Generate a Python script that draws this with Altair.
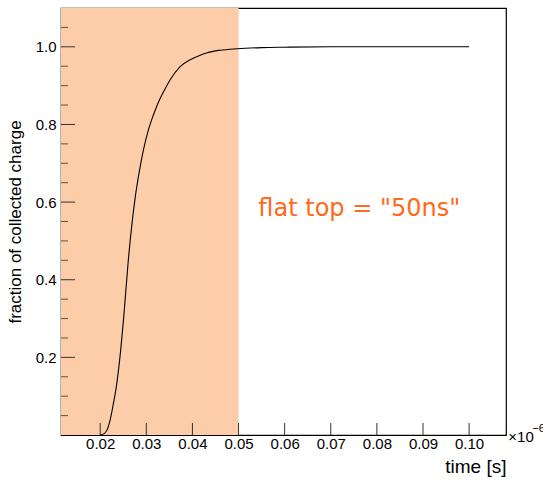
import altair as alt
import pandas as pd

# Collected-charge curve (time in microseconds on the axis, x10^-6 s)
t_vals = [0.02000, 0.02087, 0.02152, 0.02217, 0.02282, 0.02347, 0.02434, 0.02520, 0.02607,
          0.02694, 0.02759, 0.02867, 0.02939, 0.03047, 0.03156, 0.03286, 0.03409, 0.03518,
          0.03734, 0.03951, 0.04168, 0.04320, 0.04602, 0.04970, 0.05500, 0.06000, 0.07000,
          0.08000, 0.09000, 0.10000]
q_vals = [0.0000, 0.0036, 0.0139, 0.0397, 0.0783, 0.1221, 0.2071, 0.3178, 0.4466,
          0.5496, 0.6114, 0.6912, 0.7350, 0.7865, 0.8251, 0.8637, 0.8921, 0.9153,
          0.9488, 0.9668, 0.9784, 0.9848, 0.9912, 0.9951, 0.9980, 0.9990, 1.0000,
          1.0000, 1.0000, 1.0000]

x_domain = [0.0115, 0.108]
y_domain = [0.0, 1.1]

band_start = [0.0115]
band_end = [0.05]

x_major = [0.02, 0.03, 0.04, 0.05, 0.06, 0.07, 0.08, 0.09, 0.10]
y_major = [0.2, 0.4, 0.6, 0.8, 1.0]
y_minor = [0.05, 0.1, 0.15, 0.25, 0.3, 0.35, 0.45, 0.5, 0.55, 0.65, 0.7, 0.75, 0.85, 0.9, 0.95, 1.05]

note_text = ['flat top = "50ns"']
note_x = [0.0543]
note_y = [0.563]

curve = pd.DataFrame({"t": t_vals, "q": q_vals})
band = pd.DataFrame({"t0": band_start, "t1": band_end, "q0": [y_domain[0]], "q1": [y_domain[1]]})

xs = alt.Scale(domain=x_domain, nice=False, zero=False)
ys = alt.Scale(domain=y_domain, nice=False, zero=False)

x_axis = alt.Axis(values=x_major, format=".2f", tickSize=0, labelPadding=1, domain=False,
                  grid=False, labelFontSize=15, labelFont="Liberation Sans", labelColor="black",
                  title="time [s]", titleAnchor="end", titleFontSize=19, titleFont="Liberation Sans",
                  titleFontWeight="normal", titleColor="black", titlePadding=6)
y_axis = alt.Axis(values=y_major, format=".1f", tickSize=0, labelPadding=5, domain=False,
                  grid=False, labelFontSize=15, labelFont="Liberation Sans", labelColor="black",
                  title="fraction of collected charge", titleFontSize=17,
                  titleFont="Liberation Sans", titleFontWeight="normal", titleColor="black",
                  titlePadding=11)

shade = alt.Chart(band).mark_rect(color="#fdcca8").encode(
    x=alt.X("t0:Q", scale=xs, axis=x_axis),
    x2="t1:Q",
    y=alt.Y("q0:Q", scale=ys, axis=y_axis),
    y2="q1:Q",
)

# Inward-pointing ticks along the left and bottom frame edges
ymaj = alt.Chart(pd.DataFrame({"v": y_major})).mark_rule(color="#333333", strokeWidth=1).encode(
    y=alt.Y("v:Q", scale=ys), x=alt.value(0), x2=alt.value(14))
ymin = alt.Chart(pd.DataFrame({"v": y_minor})).mark_rule(color="#555555", strokeWidth=1).encode(
    y=alt.Y("v:Q", scale=ys), x=alt.value(0), x2=alt.value(7))
xmaj = alt.Chart(pd.DataFrame({"v": x_major})).mark_rule(color="#333333", strokeWidth=1).encode(
    x=alt.X("v:Q", scale=xs), y=alt.value(427), y2=alt.value(415))

line = alt.Chart(curve).mark_line(color="black", strokeWidth=1.1, interpolate="monotone").encode(
    x=alt.X("t:Q", scale=xs), y=alt.Y("q:Q", scale=ys))

note = alt.Chart(pd.DataFrame({"t": note_x, "q": note_y, "s": note_text})).mark_text(
    align="left", baseline="alphabetic", font="DejaVu Sans", fontSize=24, color="#ff6a1a"
).encode(x=alt.X("t:Q", scale=xs), y=alt.Y("q:Q", scale=ys), text="s:N")

mult = alt.Chart(pd.DataFrame({"t": [0.1085], "q": [-0.004], "s": ["×10"]})).mark_text(
    align="left", baseline="middle", font="Liberation Sans", fontSize=15, color="black", clip=False
).encode(x=alt.X("t:Q", scale=xs), y=alt.Y("q:Q", scale=ys), text="s:N")
expo = alt.Chart(pd.DataFrame({"t": [0.1137], "q": [0.016], "s": ["−6"]})).mark_text(
    align="left", baseline="middle", font="Liberation Sans", fontSize=11, color="black", clip=False
).encode(x=alt.X("t:Q", scale=xs), y=alt.Y("q:Q", scale=ys), text="s:N")

chart = alt.layer(shade, ymaj, ymin, xmaj, line, note, mult, expo).properties(
    width=445, height=427,
    autosize=alt.AutoSizeParams(type="none"),
    padding={"left": 61, "top": 8, "right": 37, "bottom": 45},
    background="white",
).configure_view(stroke="black", strokeWidth=1.2)

chart.save("out.html", embed_options={"renderer": "svg", "actions": False})
